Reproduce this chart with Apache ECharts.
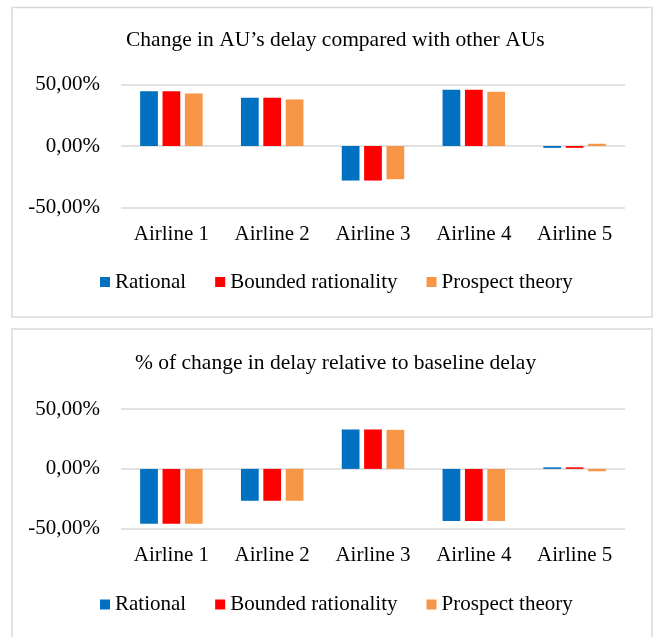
<!DOCTYPE html>
<html>
<head>
<meta charset="utf-8">
<script src="https://cdn.jsdelivr.net/npm/echarts@6/dist/echarts.min.js"></script>
<style>
  html, body { margin: 0; padding: 0; background: #ffffff; }
  #chart { width: 660px; height: 637px; }
</style>
</head>
<body>
<div id="chart"></div>
<script>
// Airlines on the category axis
const airlines = ['Airline 1', 'Airline 2', 'Airline 3', 'Airline 4', 'Airline 5'];
const seriesNames = ['Rational', 'Bounded rationality', 'Prospect theory'];

// Upper panel: change in AU's delay compared with other AUs (%)
const relRational = [44.3, 39.1, -28.0, 45.6, -1.5];
const relBounded = [44.3, 39.1, -28.0, 45.6, -1.5];
const relProspect = [42.6, 37.7, -26.9, 44.0, 1.8];

// Lower panel: % of change in delay relative to baseline delay
const baseRational = [-45.8, -26.6, 32.9, -43.5, 1.3];
const baseBounded = [-45.8, -26.6, 32.9, -43.5, 1.3];
const baseProspect = [-45.8, -26.6, 32.6, -43.5, -2.0];

const panelTitles = [
  'Change in AU\u2019s delay compared with other AUs',
  '% of change in delay relative to baseline delay'
];
const yTicks = { min: -50, max: 50, interval: 50 };

const colors = ['#0070C0', '#FF0000', '#F79646'];
const FONT = 'Liberation Serif, Times New Roman, serif';
const TEXT = '#000000';
const GRIDLINE = '#D9D9D9';

function fmtPct(v) {
  return v.toFixed(2).replace('.', ',') + '%';
}

const grids = [
  { left: 121, width: 504, top: 84.3, height: 123.4 },
  { left: 121, width: 504, top: 409, height: 119.8 }
];

function xAxisFor(i) {
  return {
    type: 'category', gridIndex: i, data: airlines,
    axisLine: { show: false }, axisTick: { show: false },
    axisLabel: { fontFamily: FONT, fontSize: 21, color: TEXT, margin: 16.5 }
  };
}
function yAxisFor(i) {
  return {
    type: 'value', gridIndex: i,
    min: yTicks.min, max: yTicks.max, interval: yTicks.interval,
    axisLine: { show: false }, axisTick: { show: false },
    splitLine: { lineStyle: { color: GRIDLINE, width: 1.6 } },
    axisLabel: { fontFamily: FONT, fontSize: 21, color: TEXT, margin: 21, formatter: fmtPct }
  };
}
function barSeries(name, data, idx, axis) {
  return {
    name: name, type: 'bar', data: data,
    xAxisIndex: axis, yAxisIndex: axis,
    itemStyle: { color: colors[idx] },
    barGap: '26%', barCategoryGap: '38%',
    emphasis: { disabled: true }
  };
}

const option = {
  animation: false,
  color: colors,
  graphic: [
    { type: 'rect', shape: { x: 12, y: 7.5, width: 640, height: 309.5 },
      style: { fill: 'none', stroke: GRIDLINE, lineWidth: 1.5 }, silent: true },
    { type: 'rect', shape: { x: 12, y: 329, width: 640, height: 330 },
      style: { fill: 'none', stroke: GRIDLINE, lineWidth: 1.5 }, silent: true }
  ],
  title: [
    { text: panelTitles[0], left: 126, top: 29, padding: 0,
      textStyle: { fontFamily: FONT, fontSize: 21.5, fontWeight: 'normal', color: TEXT } },
    { text: panelTitles[1], left: 135, top: 352, padding: 0,
      textStyle: { fontFamily: FONT, fontSize: 21.5, fontWeight: 'normal', color: TEXT } }
  ],
  legend: [0, 1].map(function (i) {
    return {
      data: seriesNames, left: 100, top: i === 0 ? 271.5 : 594, padding: 0,
      icon: 'rect', itemWidth: 10, itemHeight: 10, itemGap: 29,
      selectedMode: false,
      textStyle: { fontFamily: FONT, fontSize: 21, color: TEXT }
    };
  }),
  grid: grids,
  xAxis: [xAxisFor(0), xAxisFor(1)],
  yAxis: [yAxisFor(0), yAxisFor(1)],
  series: [
    barSeries(seriesNames[0], relRational, 0, 0),
    barSeries(seriesNames[1], relBounded, 1, 0),
    barSeries(seriesNames[2], relProspect, 2, 0),
    barSeries(seriesNames[0], baseRational, 0, 1),
    barSeries(seriesNames[1], baseBounded, 1, 1),
    barSeries(seriesNames[2], baseProspect, 2, 1)
  ]
};

const chart = echarts.init(document.getElementById('chart'), null, { renderer: 'canvas' });
chart.setOption(option);
</script>
</body>
</html>
